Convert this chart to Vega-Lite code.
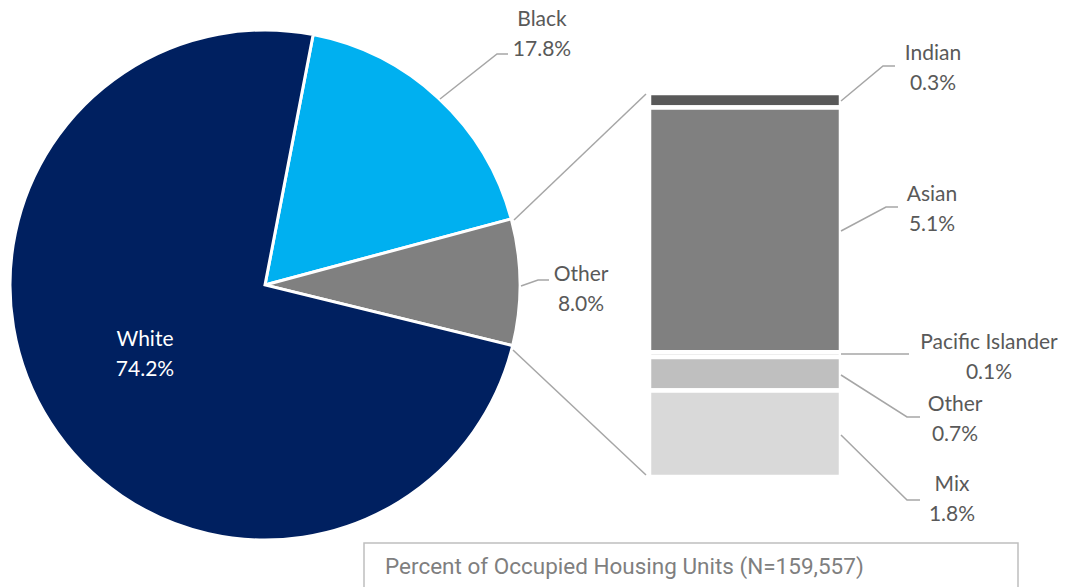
{
  "$schema": "https://vega.github.io/schema/vega-lite/v6.json",
  "width": 1067,
  "height": 587,
  "autosize": {"type": "none"},
  "padding": 0,
  "background": "white",
  "config": {"view": {"stroke": null}},
  "datasets": {
    "pie": [
      {"group": "Black", "pct": 17.8, "k": 1},
      {"group": "Other", "pct": 8.0, "k": 2},
      {"group": "White", "pct": 74.2, "k": 3}
    ],
    "sub": [
      {"group": "Indian", "pct": 0.3, "k": 1},
      {"group": "Asian", "pct": 5.1, "k": 2},
      {"group": "Pacific Islander", "pct": 0.1, "k": 3},
      {"group": "Other", "pct": 0.7, "k": 4},
      {"group": "Mix", "pct": 1.8, "k": 5}
    ],
    "leaders": [
      {"id": "Black", "i": 1, "x": 440, "y": 99},
      {"id": "Black", "i": 2, "x": 497, "y": 54},
      {"id": "Black", "i": 3, "x": 508, "y": 54},
      {"id": "OtherP", "i": 1, "x": 521, "y": 286},
      {"id": "OtherP", "i": 2, "x": 538, "y": 280},
      {"id": "OtherP", "i": 3, "x": 549, "y": 280},
      {"id": "ConnTop", "i": 1, "x": 514, "y": 220},
      {"id": "ConnTop", "i": 2, "x": 646, "y": 94},
      {"id": "ConnBot", "i": 1, "x": 513, "y": 350},
      {"id": "ConnBot", "i": 2, "x": 646, "y": 475},
      {"id": "Indian", "i": 1, "x": 841, "y": 101},
      {"id": "Indian", "i": 2, "x": 883, "y": 66},
      {"id": "Indian", "i": 3, "x": 895, "y": 66},
      {"id": "Asian", "i": 1, "x": 841, "y": 231},
      {"id": "Asian", "i": 2, "x": 886, "y": 207},
      {"id": "Asian", "i": 3, "x": 898, "y": 207},
      {"id": "PI", "i": 1, "x": 841, "y": 354},
      {"id": "PI", "i": 2, "x": 909, "y": 354},
      {"id": "OtherB", "i": 1, "x": 841, "y": 375},
      {"id": "OtherB", "i": 2, "x": 907, "y": 417},
      {"id": "OtherB", "i": 3, "x": 920, "y": 417},
      {"id": "Mix", "i": 1, "x": 841, "y": 435},
      {"id": "Mix", "i": 2, "x": 907, "y": 500},
      {"id": "Mix", "i": 3, "x": 920, "y": 500}
    ],
    "box": [
      {"i": 1, "x": 364, "y": 600},
      {"i": 2, "x": 364, "y": 543},
      {"i": 3, "x": 1018, "y": 543},
      {"i": 4, "x": 1018, "y": 600}
    ],
    "labels": [
      {"name": "Black", "label": ["Black", "17.8%"], "x": 542, "y": 26},
      {"name": "Other", "label": ["Other", "8.0%"], "x": 581, "y": 281},
      {"name": "White", "label": ["White", "74.2%"], "x": 145, "y": 346},
      {"name": "Indian", "label": ["Indian", "0.3%"], "x": 933, "y": 60},
      {"name": "Asian", "label": ["Asian", "5.1%"], "x": 932, "y": 201},
      {"name": "Pacific Islander", "label": ["Pacific Islander", "0.1%"], "x": 989, "y": 349},
      {"name": "Other sub", "label": ["Other", "0.7%"], "x": 955, "y": 411},
      {"name": "Mix", "label": ["Mix", "1.8%"], "x": 952, "y": 491}
    ],
    "caption": [
      {"text": "Percent of Occupied Housing Units (N=159,557)"}
    ]
  },
  "resolve": {"scale": {"y": "independent", "color": "independent"}},
  "layer": [
    {
      "data": {"name": "sub"},
      "transform": [
        {"stack": "pct", "groupby": [], "sort": [{"field": "k", "order": "descending"}], "as": ["y0", "y1"]}
      ],
      "mark": {"type": "bar", "stroke": "white", "strokeWidth": 4.5},
      "encoding": {
        "x": {"datum": 649, "type": "quantitative", "scale": {"domain": [0, 1067]}, "axis": null},
        "x2": {"datum": 841},
        "y": {"field": "y0", "type": "quantitative", "scale": {"domain": [-2.2917, 9.9375]}, "axis": null},
        "y2": {"field": "y1"},
        "color": {
          "field": "group", "type": "nominal", "legend": null,
          "scale": {
            "domain": ["Indian", "Asian", "Pacific Islander", "Other", "Mix"],
            "range": ["#595959", "#808080", "#a6a6a6", "#bfbfbf", "#d9d9d9"]
          }
        }
      }
    },
    {
      "layer": [
        {
          "data": {"name": "pie"},
          "mark": {"type": "arc", "outerRadius": 255, "stroke": "white", "strokeWidth": 3},
          "encoding": {
            "x": {"datum": 265, "type": "quantitative", "scale": {"domain": [0, 1067]}, "axis": null},
            "y": {"datum": 285, "type": "quantitative", "scale": {"domain": [0, 587], "reverse": true}, "axis": null},
            "theta": {"field": "pct", "type": "quantitative", "stack": true, "scale": {"domain": [0, 100], "range": [0.19, 6.4732]}},
            "color": {
              "field": "group", "type": "nominal", "legend": null,
              "scale": {"domain": ["White", "Black", "Other"], "range": ["#002060", "#00b0f0", "#808080"]}
            },
            "order": {"field": "k", "type": "quantitative"}
          }
        },
        {
          "data": {"name": "leaders"},
          "mark": {"type": "line", "color": "#a6a6a6", "strokeWidth": 1.5},
          "encoding": {
            "x": {"field": "x", "type": "quantitative", "scale": {"domain": [0, 1067]}, "axis": null},
            "y": {"field": "y", "type": "quantitative", "scale": {"domain": [0, 587], "reverse": true}, "axis": null},
            "detail": {"field": "id", "type": "nominal"},
            "order": {"field": "i", "type": "quantitative"}
          }
        },
        {
          "data": {"name": "labels"},
          "mark": {"type": "text", "font": "Lato", "fontSize": 21, "lineHeight": 29.5, "align": "center", "baseline": "alphabetic"},
          "encoding": {
            "x": {"field": "x", "type": "quantitative", "scale": {"domain": [0, 1067]}, "axis": null},
            "y": {"field": "y", "type": "quantitative", "scale": {"domain": [0, 587], "reverse": true}, "axis": null},
            "text": {"field": "label"},
            "color": {"condition": {"test": "datum.name === 'White'", "value": "#ffffff"}, "value": "#595959"}
          }
        },
        {
          "data": {"name": "box"},
          "mark": {"type": "line", "color": "#bfbfbf", "strokeWidth": 1.5},
          "encoding": {
            "x": {"field": "x", "type": "quantitative", "scale": {"domain": [0, 1067]}, "axis": null},
            "y": {"field": "y", "type": "quantitative", "scale": {"domain": [0, 587], "reverse": true}, "axis": null},
            "order": {"field": "i", "type": "quantitative"}
          }
        },
        {
          "data": {"name": "caption"},
          "mark": {"type": "text", "font": "Roboto", "fontSize": 22.5, "align": "left", "baseline": "alphabetic", "color": "#7f7f7f"},
          "encoding": {
            "x": {"datum": 385, "type": "quantitative", "scale": {"domain": [0, 1067]}, "axis": null},
            "y": {"datum": 573.5, "type": "quantitative", "scale": {"domain": [0, 587], "reverse": true}, "axis": null},
            "text": {"field": "text"}
          }
        }
      ]
    }
  ]
}
